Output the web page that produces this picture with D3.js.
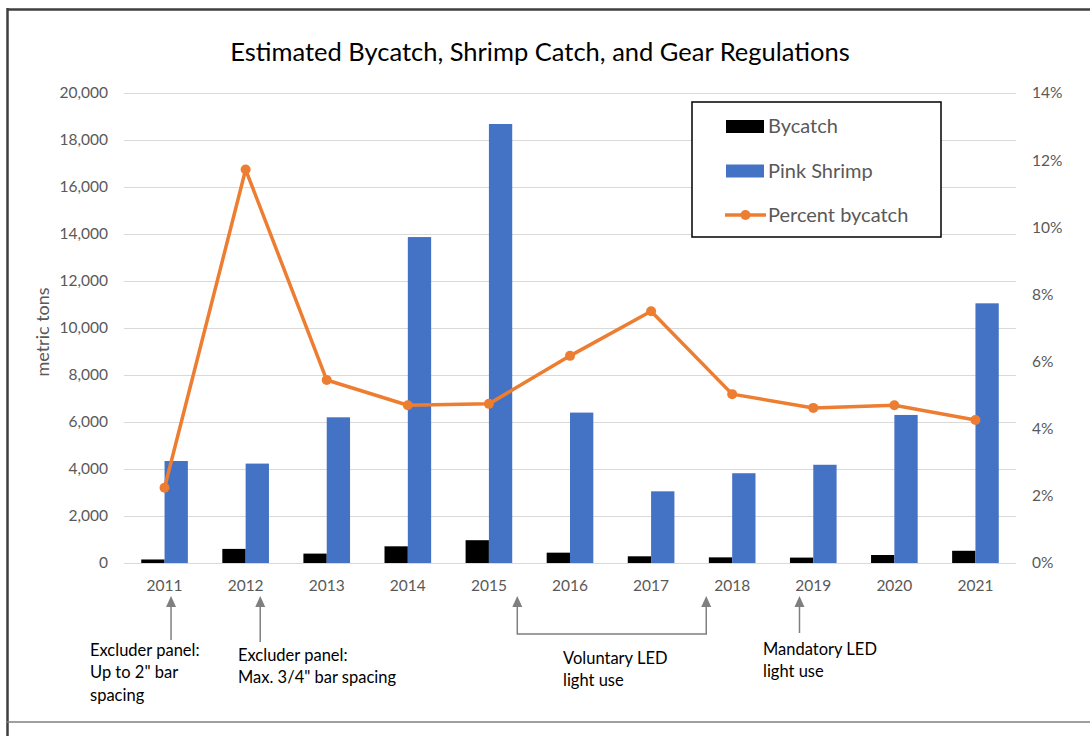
<!DOCTYPE html>
<html>
<head>
<meta charset="utf-8">
<script src="https://cdn.jsdelivr.net/npm/d3@7"></script>
<style>
  body { margin: 0; background: #fff; }
  svg { display: block; font-family: Lato, "Open Sans", sans-serif; }
</style>
</head>
<body>
<svg width="1090" height="736"></svg>
<script>
var years = ["2011","2012","2013","2014","2015","2016","2017","2018","2019","2020","2021"];
var bycatch = [150, 600, 400, 710, 970, 440, 285, 240, 230, 340, 520];
var pinkShrimp = [4340, 4230, 6200, 13870, 18680, 6400, 3050, 3820, 4180, 6300, 11050];
var percentBycatch = [2.24, 11.72, 5.45, 4.7, 4.74, 6.17, 7.5, 5.03, 4.62, 4.7, 4.26];
var leftTicks = [0, 2000, 4000, 6000, 8000, 10000, 12000, 14000, 16000, 18000, 20000];
var rightTicks = [0, 2, 4, 6, 8, 10, 12, 14];

// regulation notes: position given as fractional year index
var notes = [
  {at: 0.08, lines: ["Excluder panel:", "Up to 2\" bar", "spacing"]},
  {at: 1.18, lines: ["Excluder panel:", "Max. 3/4\" bar spacing"]},
  {at: 7.83, lines: ["Mandatory LED", "light use"]}
];
var voluntary = {from: 4.35, to: 6.68, lines: ["Voluntary LED", "light use"]};

var svg = d3.select("svg"),
    margin = {top: 93, right: 74, bottom: 173, left: 124},
    width = +svg.attr("width") - margin.left - margin.right,
    height = +svg.attr("height") - margin.top - margin.bottom;

var grey = "#595959";

var x = d3.scaleBand().domain(years).range([0, width]).paddingInner(0.425).paddingOuter(0.2125),
    xs = d3.scaleBand().domain(["bycatch", "pink"]).range([0, x.bandwidth()]),
    y = d3.scaleLinear().domain([0, 20000]).range([height, 0]),
    y2 = d3.scaleLinear().domain([0, 14]).range([height, 0]);

// frame
svg.append("line").attr("x1", 7).attr("x2", 1090).attr("y1", 9.5).attr("y2", 9.5)
    .style("stroke", "#3f3f3f").style("stroke-width", 2.5);
svg.append("line").attr("x1", 7.5).attr("x2", 7.5).attr("y1", 8).attr("y2", 736)
    .style("stroke", "#3f3f3f").style("stroke-width", 2.5);
svg.append("line").attr("x1", 7).attr("x2", 1090).attr("y1", 722).attr("y2", 722)
    .style("stroke", "#7f7f7f").style("stroke-width", 1.5);

svg.append("text")
    .attr("x", 540).attr("y", 61)
    .style("text-anchor", "middle")
    .style("font-size", "25.5px")
    .attr("fill", "#000")
    .text("Estimated Bycatch, Shrimp Catch, and Gear Regulations");

svg.append("text")
    .attr("transform", "rotate(-90)")
    .attr("x", -332)
    .attr("y", 49)
    .style("text-anchor", "middle")
    .style("font-size", "18px")
    .attr("fill", grey)
    .text("metric tons");

var g = svg.append("g")
    .attr("transform", "translate(" + margin.left + "," + margin.top + ")");

// gridlines
g.append("g")
    .call(d3.axisLeft(y).tickValues(leftTicks).tickSize(-width).tickFormat(""))
    .call(function(s) {
      s.select(".domain").remove();
      s.selectAll("line").style("stroke", "#d9d9d9").style("stroke-width", 1);
    });

g.append("g")
    .call(d3.axisLeft(y).tickValues(leftTicks).tickSize(0).tickPadding(16).tickFormat(d3.format(",d")))
    .call(function(s) {
      s.select(".domain").remove();
      s.selectAll("text").style("fill", grey).style("font-size", "15.5px")
        .style("font-family", "Lato, sans-serif");
    });

g.append("g")
    .attr("transform", "translate(" + width + ",0)")
    .call(d3.axisRight(y2).tickValues(rightTicks).tickSize(0).tickPadding(16).tickFormat(function(d) { return d + "%"; }))
    .call(function(s) {
      s.select(".domain").remove();
      s.selectAll("text").style("fill", grey).style("font-size", "15.5px")
        .style("font-family", "Lato, sans-serif");
    });

g.append("g")
    .attr("transform", "translate(0," + height + ")")
    .call(d3.axisBottom(x).tickSize(0).tickPadding(17))
    .call(function(s) {
      s.select(".domain").remove();
      s.selectAll("text").style("fill", grey).style("font-size", "15.5px")
        .style("font-family", "Lato, sans-serif");
    });

var rows = years.map(function(yr, i) {
  return {year: yr, bycatch: bycatch[i], pink: pinkShrimp[i], pct: percentBycatch[i]};
});

g.selectAll(".bar-by")
  .data(rows)
  .enter().append("rect")
    .attr("class", "bar-by")
    .attr("x", function(d) { return x(d.year) + xs("bycatch"); })
    .attr("y", function(d) { return y(d.bycatch); })
    .attr("width", xs.bandwidth())
    .attr("height", function(d) { return height - y(d.bycatch); })
    .style("fill", "#000");

g.selectAll(".bar-pink")
  .data(rows)
  .enter().append("rect")
    .attr("class", "bar-pink")
    .attr("x", function(d) { return x(d.year) + xs("pink"); })
    .attr("y", function(d) { return y(d.pink); })
    .attr("width", xs.bandwidth())
    .attr("height", function(d) { return height - y(d.pink); })
    .style("fill", "#4472c4");

var line = d3.line()
    .x(function(d) { return x(d.year) + x.bandwidth() / 2; })
    .y(function(d) { return y2(d.pct); });

g.append("path")
    .datum(rows)
    .attr("d", line)
    .style("fill", "none")
    .style("stroke", "#ed7d31")
    .style("stroke-width", "3.5px")
    .style("stroke-linejoin", "round");

g.selectAll(".dot")
  .data(rows)
  .enter().append("circle")
    .attr("class", "dot")
    .attr("cx", function(d) { return x(d.year) + x.bandwidth() / 2; })
    .attr("cy", function(d) { return y2(d.pct); })
    .attr("r", 5)
    .style("fill", "#ed7d31");

// legend
var legend = svg.append("g").attr("transform", "translate(692,102)");
legend.append("rect")
    .attr("width", 249).attr("height", 135)
    .style("fill", "#fff").style("stroke", "#000").style("stroke-width", 1.5);
var legItems = [
  {name: "Bycatch", type: "rect", color: "#000"},
  {name: "Pink Shrimp", type: "rect", color: "#4472c4"},
  {name: "Percent bycatch", type: "line", color: "#ed7d31"}
];
legItems.forEach(function(it, i) {
  var cy = 24 + i * 44.5;
  if (it.type === "rect") {
    legend.append("rect").attr("x", 34).attr("y", cy - 6).attr("width", 38).attr("height", 13)
        .style("fill", it.color);
  } else {
    legend.append("line").attr("x1", 33).attr("x2", 74).attr("y1", cy).attr("y2", cy)
        .style("stroke", it.color).style("stroke-width", 3.5);
    legend.append("circle").attr("cx", 53.5).attr("cy", cy).attr("r", 5).style("fill", it.color);
  }
  legend.append("text").attr("x", 76).attr("y", cy).attr("dy", "0.35em")
      .style("font-size", "20px").attr("fill", grey).text(it.name);
});

// regulation annotations
var arrowCol = "#7f7f7f";
var xpos = d3.scaleLinear().domain([0, years.length - 1])
    .range([margin.left + x(years[0]) + x.bandwidth() / 2, margin.left + x(years[years.length - 1]) + x.bandwidth() / 2]);

function arrowHead(px, tipY) {
  svg.append("path")
      .attr("d", "M" + px + "," + tipY + "L" + (px - 5) + "," + (tipY + 11) + "L" + (px + 5) + "," + (tipY + 11) + "Z")
      .style("fill", arrowCol);
}

var textX = [90, 238, 763];
var textY = [650, 655, 649];
var arrowBottom = [640, 642, 633];
notes.forEach(function(n, i) {
  var px = xpos(n.at);
  svg.append("line").attr("x1", px).attr("x2", px).attr("y1", 605).attr("y2", arrowBottom[i])
      .style("stroke", arrowCol).style("stroke-width", 1.5);
  arrowHead(px, 596);
  var t = svg.append("text").attr("x", textX[i]).attr("y", textY[i])
      .style("font-size", "16.5px").attr("fill", "#000");
  n.lines.forEach(function(l, j) {
    t.append("tspan").attr("x", textX[i]).attr("dy", j === 0 ? "0.35em" : "1.37em").text(l);
  });
});

var vx1 = xpos(voluntary.from), vx2 = xpos(voluntary.to);
svg.append("path")
    .attr("d", "M" + vx1 + ",605V634H" + vx2 + "V605")
    .style("fill", "none").style("stroke", arrowCol).style("stroke-width", 1.5);
arrowHead(vx1, 596);
arrowHead(vx2, 596);
var vt = svg.append("text").attr("x", 563).attr("y", 658)
    .style("font-size", "16.5px").attr("fill", "#000");
voluntary.lines.forEach(function(l, j) {
  vt.append("tspan").attr("x", 563).attr("dy", j === 0 ? "0.35em" : "1.37em").text(l);
});
</script>
</body>
</html>
